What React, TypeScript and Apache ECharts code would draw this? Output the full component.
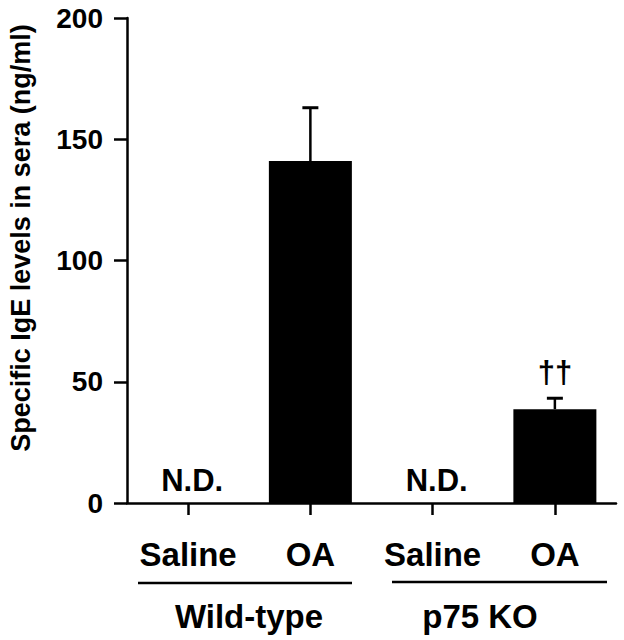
import React, { useEffect, useRef } from "react";
import * as echarts from "echarts";

const categories = ["Saline", "OA", "Saline", "OA"];
const means: (number | null)[] = [null, 141, null, 38.7];
const upperErrors: (number | null)[] = [null, 163, null, 43.2];
const notDetected = ["N.D.", "", "N.D.", ""];
const annotations = ["", "", "", "††"];
const yTicks = { min: 0, max: 200, interval: 50 };
const yTitle = "Specific IgE levels in sera (ng/ml)";
const groups = ["Wild-type", "p75 KO"];

const FONT = '"Liberation Sans", Arial, Helvetica, sans-serif';

export default function App() {
  const ref = useRef<HTMLDivElement>(null);
  useEffect(() => {
    if (!ref.current) return;
    const chart = echarts.init(ref.current, null, { renderer: "svg" });

    const errData = means
      .map((m, i) => (m != null && upperErrors[i] != null ? [i, m, upperErrors[i], annotations[i]] : null))
      .filter((d) => d !== null);
    const ndData = notDetected
      .map((t, i) => (t ? [i, 0, t] : null))
      .filter((d) => d !== null);

    chart.setOption({
      animation: false,
      backgroundColor: "#ffffff",
      grid: { left: 127, right: 8, top: 18, bottom: 137, containLabel: false },
      xAxis: {
        type: "category",
        data: categories,
        axisLine: { lineStyle: { color: "#000", width: 2.5 } },
        axisTick: {
          show: true,
          interval: 0,
          alignWithLabel: true,
          length: 12,
          lineStyle: { color: "#000", width: 2.5 },
        },
        axisLabel: {
          interval: 0,
          hideOverlap: false,
          color: "#000",
          fontSize: 33,
          fontWeight: "bold",
          fontFamily: FONT,
          margin: 35,
        },
        splitLine: { show: false },
      },
      yAxis: {
        type: "value",
        min: yTicks.min,
        max: yTicks.max,
        interval: yTicks.interval,
        axisLine: { show: true, lineStyle: { color: "#000", width: 2.5 } },
        axisTick: { show: true, length: 13, lineStyle: { color: "#000", width: 2.5 } },
        axisLabel: {
          color: "#000",
          fontSize: 28,
          fontWeight: "bold",
          fontFamily: FONT,
          margin: 24,
        },
        splitLine: { show: false },
      },
      series: [
        {
          type: "bar",
          data: means,
          barWidth: 83,
          itemStyle: { color: "#000" },
          z: 2,
        },
        {
          type: "custom",
          data: errData,
          z: 3,
          renderItem: (params: any, api: any) => {
            const x = api.value(0);
            const m = api.value(1);
            const u = api.value(2);
            const ann = errData[params.dataIndex]![3] as string;
            const p0 = api.coord([x, m]);
            const p1 = api.coord([x, u]);
            const children: any[] = [
              {
                type: "line",
                shape: { x1: p0[0], y1: p0[1], x2: p1[0], y2: p1[1] },
                style: { stroke: "#000", lineWidth: 2.5 },
              },
              {
                type: "line",
                shape: { x1: p1[0] - 8, y1: p1[1], x2: p1[0] + 8, y2: p1[1] },
                style: { stroke: "#000", lineWidth: 3 },
              },
            ];
            if (ann) {
              children.push({
                type: "text",
                x: p1[0],
                y: p1[1] - 10,
                style: {
                  text: ann,
                  font: `bold 31px ${FONT}`,
                  fill: "#000",
                  align: "center",
                  verticalAlign: "bottom",
                  textAlign: "center",
                  textVerticalAlign: "bottom",
                },
              });
            }
            return { type: "group", children };
          },
        },
        {
          type: "custom",
          data: ndData,
          z: 3,
          renderItem: (params: any, api: any) => {
            const x = api.value(0);
            const t = ndData[params.dataIndex]![2] as string;
            const p = api.coord([x, 0]);
            return {
              type: "text",
              x: p[0] + 4,
              y: p[1] - 7,
              style: {
                text: t,
                font: `bold 31px ${FONT}`,
                fill: "#000",
                align: "center",
                verticalAlign: "bottom",
                textAlign: "center",
                textVerticalAlign: "bottom",
              },
            };
          },
        },
      ],
      graphic: [
        {
          type: "text",
          x: 21,
          y: 238,
          rotation: Math.PI / 2,
          style: {
            text: yTitle,
            font: `bold 27px ${FONT}`,
            fill: "#000",
            align: "center",
            verticalAlign: "middle",
            textAlign: "center",
            textVerticalAlign: "middle",
          },
        },
        {
          type: "line",
          shape: { x1: 138, y1: 583, x2: 352, y2: 583 },
          style: { stroke: "#000", lineWidth: 2.5 },
        },
        {
          type: "line",
          shape: { x1: 392, y1: 582, x2: 607, y2: 582 },
          style: { stroke: "#000", lineWidth: 2.5 },
        },
        {
          type: "text",
          x: 249,
          y: 616,
          style: {
            text: groups[0],
            font: `bold 33px ${FONT}`,
            fill: "#000",
            align: "center",
            verticalAlign: "middle",
            textAlign: "center",
            textVerticalAlign: "middle",
          },
        },
        {
          type: "text",
          x: 480,
          y: 616,
          style: {
            text: groups[1],
            font: `bold 33px ${FONT}`,
            fill: "#000",
            align: "center",
            verticalAlign: "middle",
            textAlign: "center",
            textVerticalAlign: "middle",
          },
        },
      ],
    });
    return () => chart.dispose();
  }, []);
  return (
    <div
      ref={ref}
      style={{ position: "absolute", left: 0, top: 0, width: 624, height: 640, background: "#fff" }}
    />
  );
}
